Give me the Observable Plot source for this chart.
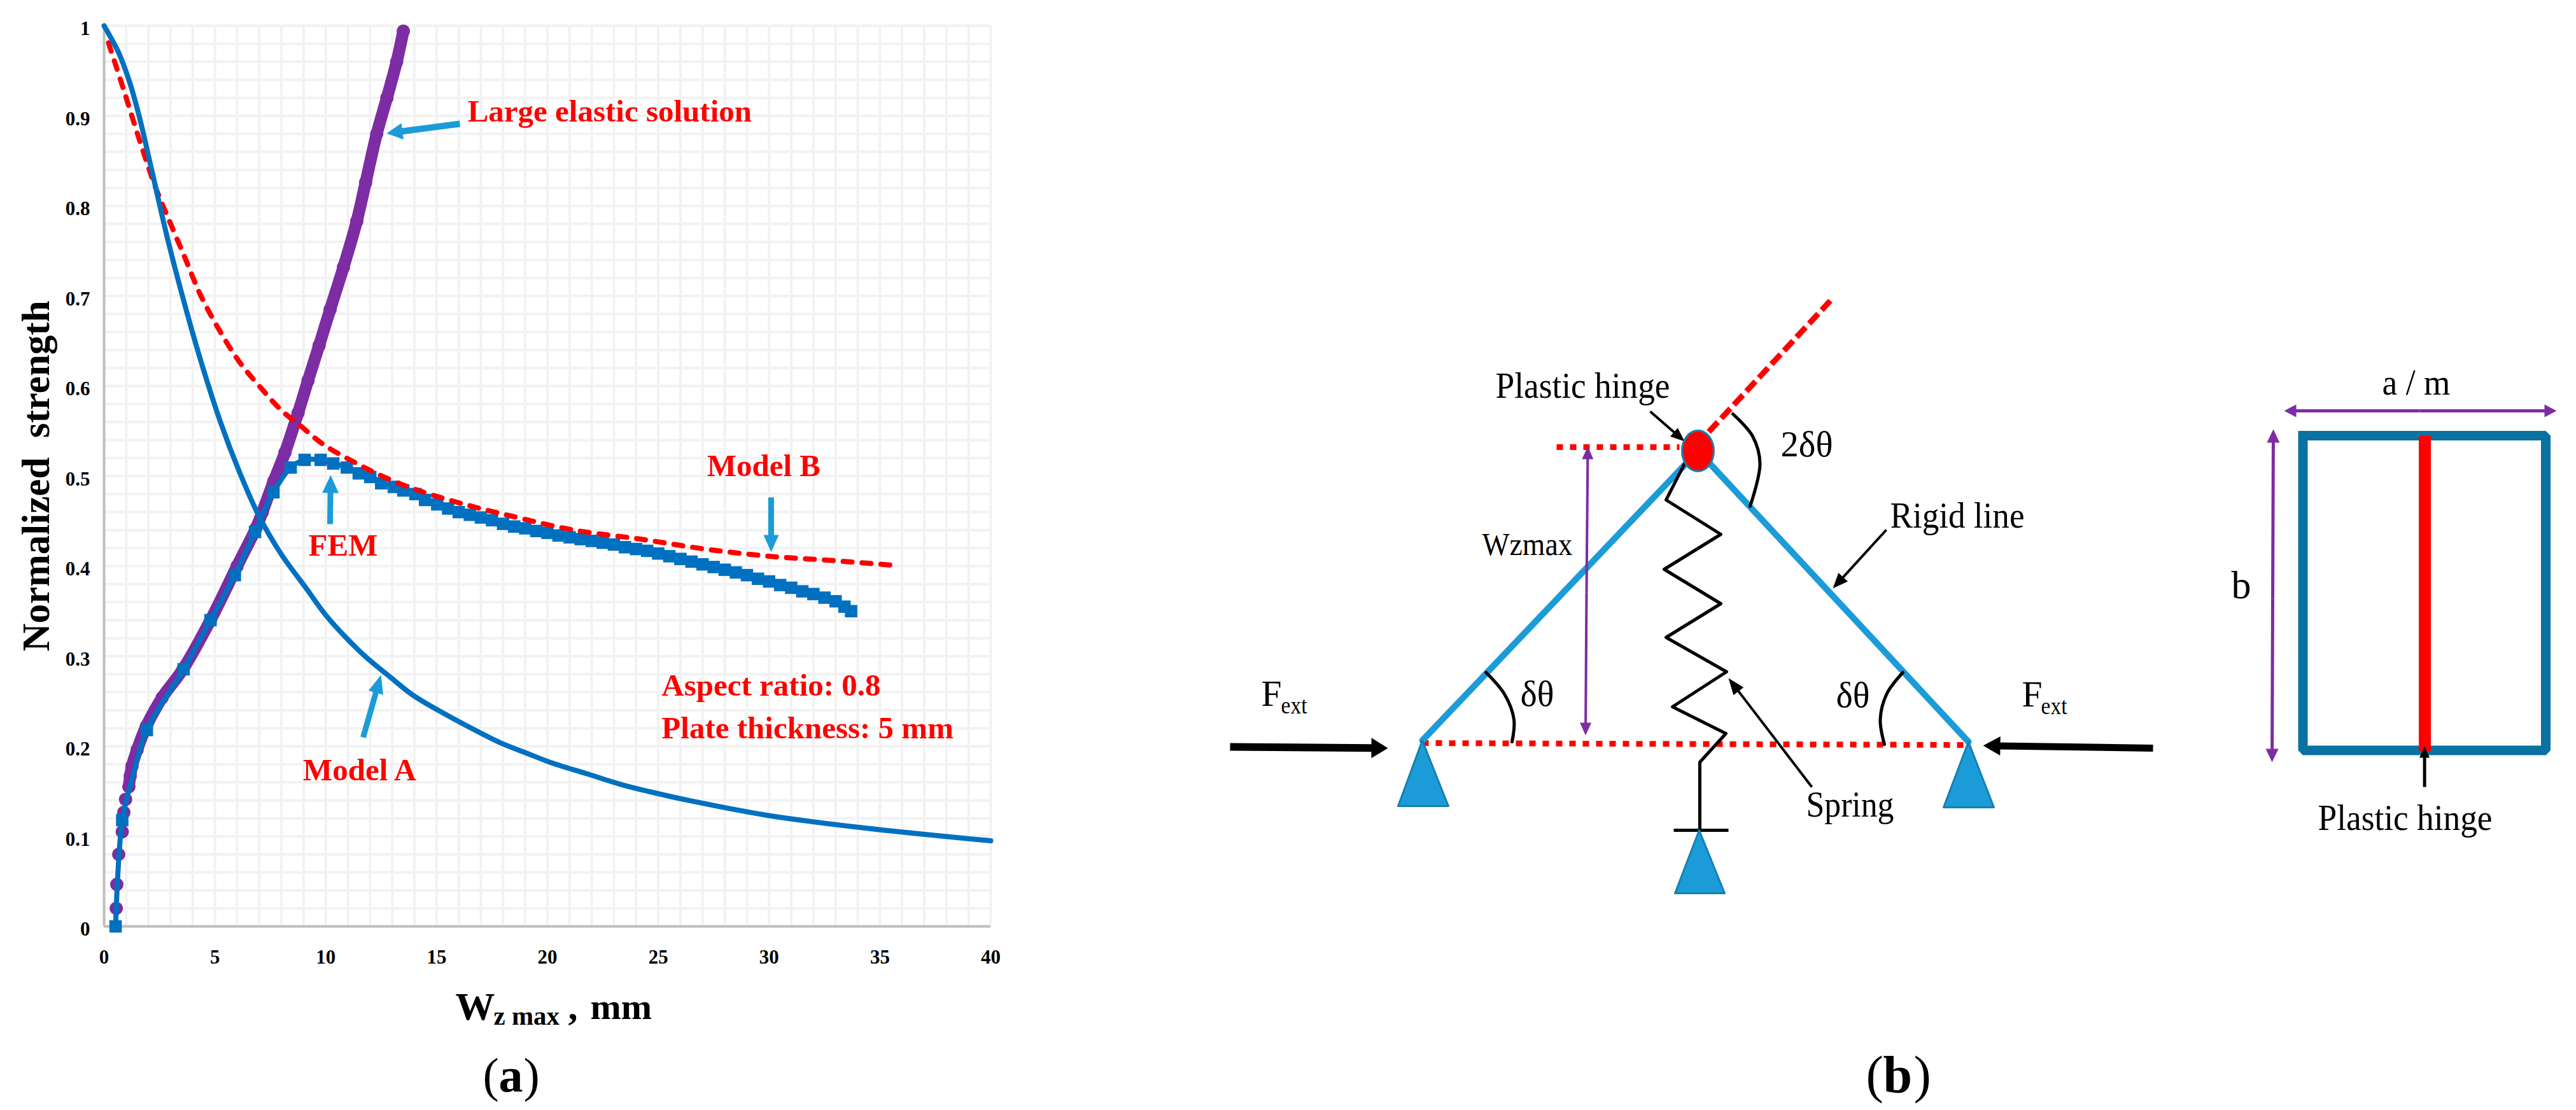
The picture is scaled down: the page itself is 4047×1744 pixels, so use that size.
<!DOCTYPE html>
<html><head><meta charset="utf-8">
<style>html,body{margin:0;padding:0;background:#fff}#wrap{position:relative;width:4047px;height:1744px;overflow:hidden}#wrap svg{position:absolute;left:0;top:0;background:transparent;max-width:none}</style>
<script src="https://cdn.jsdelivr.net/npm/d3@7"></script>
<script src="https://cdn.jsdelivr.net/npm/@observablehq/plot@0.6"></script>
</head><body><div id="wrap"></div>
<script>
// ---- panel (a) values ----
const modelAx=[0,0.3,0.66,1.17,1.6,2.11,2.9,3.7,4.4,5.25,6.1,7,8,9.1,9.99,10.98,11.86,12.85,13.94,15.14,16.37,17.9,19,20.1,21.76,23.4,25.06,26.35,30,34.4,40];
const modelAy=[1,0.987,0.97,0.936,0.898,0.844,0.76,0.685,0.625,0.56,0.505,0.455,0.413,0.376,0.346,0.319,0.298,0.278,0.2566,0.239,0.2226,0.2036,0.193,0.1824,0.1696,0.157,0.147,0.14,0.123,0.109,0.095];
const modelBx=[0.2,0.87,1.6,2.33,2.9,3.64,4.37,5.25,6.1,7,8,8.9,9.9,11.4,12.8,14.3,16.5,18.3,21.2,24.2,27.1,30,33,35.6];
const modelBy=[0.981,0.93,0.873,0.82,0.786,0.743,0.70,0.66,0.627,0.60,0.573,0.555,0.535,0.514,0.497,0.483,0.467,0.456,0.44,0.43,0.419,0.411,0.406,0.401];
const elasticX=[0.55,0.575,0.66,0.82,0.89,0.97,1.12,1.18,1.26,1.49,1.9,2.62,3.57,4.8,6,6.85,7.14,7.65,8.16,8.75,9.2,9.7,10.2,10.8,11.4,11.8,12.3,12.76,13.2,13.5];
const elasticY=[0.02,0.0466,0.08,0.105,0.1265,0.141,0.155,0.167,0.178,0.196,0.222,0.254,0.286,0.34,0.40,0.442,0.46,0.494,0.526,0.57,0.606,0.645,0.685,0.732,0.783,0.826,0.88,0.92,0.96,0.994];
const femX=[0.52,0.82,1.29,1.93,3.59,4.8,5.9,6.81,7.64,8.42,9.05,9.77,10.34,10.95,11.49,12.01,12.5,13.07,13.5,14.05,14.48,15.03,15.52,16,16.5,17,17.5,18,18.5,19,19.5,20,20.5,21,21.5,22,22.5,23,23.5,24,24.5,25,25.5,26,26.5,27,27.5,28,28.5,29,29.5,30,30.5,31,31.5,32,32.5,33,33.4,33.7];
const femY=[0,0.118,0.166,0.218,0.2855,0.34,0.39,0.438,0.482,0.5095,0.518,0.518,0.514,0.5095,0.503,0.499,0.492,0.488,0.484,0.48,0.4735,0.4686,0.464,0.46,0.457,0.454,0.451,0.447,0.444,0.442,0.439,0.437,0.434,0.432,0.43,0.428,0.426,0.424,0.421,0.419,0.417,0.414,0.411,0.408,0.405,0.402,0.399,0.396,0.393,0.39,0.386,0.383,0.379,0.376,0.372,0.369,0.365,0.361,0.355,0.35];
const femNoMarker=[1.29];
const xTicks=[0,5,10,15,20,25,30,35,40];
const yTicks=[0,0.1,0.2,0.3,0.4,0.5,0.6,0.7,0.8,0.9,1];
const xGrid=d3.range(0,41);
const yGrid=d3.range(0,51).map(i=>i/50);
const redLabels=[
 {t:"Large elastic solution",x:16.4,y:0.905},
 {t:"Model B",x:27.2,y:0.511},
 {t:"FEM",x:9.22,y:0.4226},
 {t:"Model A",x:8.97,y:0.173},
 {t:"Aspect ratio: 0.8",x:25.15,y:0.267},
 {t:"Plate thickness: 5 mm",x:25.15,y:0.22}];
const rows=(xs,ys)=>xs.map((x,i)=>({x,y:ys[i]}));
const serif="Liberation Serif";
const BLUE="#0070c0",PURPLE="#7d2ca3",RED="#ff0000",SKY="#1b9cd8",TEAL="#0a72a0";
const lineOpt={x:"x",y:"y",curve:"catmull-rom"};

const chart=Plot.plot({
 width:1900,height:1744,marginLeft:163,marginRight:344,marginTop:40,marginBottom:289,
 x:{domain:[0,40]},y:{domain:[0,1]},
 style:{background:"transparent",overflow:"visible"},
 marks:[
  Plot.ruleX(xGrid,{stroke:"#f2f2f2",strokeWidth:4}),
  Plot.ruleY(yGrid,{stroke:"#f2f2f2",strokeWidth:4}),
  Plot.ruleX([0],{stroke:"#bfbfbf",strokeWidth:4}),
  Plot.ruleY([0],{stroke:"#bfbfbf",strokeWidth:4}),
  Plot.axisX({ticks:xTicks,tickSize:0,tickPadding:36,fontSize:31,fontWeight:"bold",fontFamily:serif,fill:"#000",label:null,tickFormat:d=>String(d)}),
  Plot.axisY({ticks:yTicks,tickSize:0,tickPadding:22,dy:5,fontSize:31,fontWeight:"bold",fontFamily:serif,fill:"#000",label:null,tickFormat:d=>String(d)}),
  Plot.line(rows(elasticX,elasticY).filter(d=>d.y>=0.15),{...lineOpt,stroke:PURPLE,strokeWidth:19}),
  Plot.dot(rows(elasticX,elasticY),{x:"x",y:"y",r:10.5,fill:PURPLE,stroke:"none"}),
  Plot.line(rows(femX,femY),{...lineOpt,stroke:BLUE,strokeWidth:8}),
  Plot.dot(rows(femX,femY).filter(d=>!femNoMarker.includes(d.x)),{x:"x",y:"y",r:11,symbol:"square",fill:BLUE,stroke:"none"}),
  Plot.line(rows(modelBx,modelBy),{...lineOpt,stroke:RED,strokeWidth:8,strokeDasharray:"14,15.7",strokeLinecap:"round"}),
  Plot.line(rows(modelAx,modelAy),{...lineOpt,stroke:BLUE,strokeWidth:8}),
  Plot.text(redLabels,{x:"x",y:"y",text:"t",textAnchor:"start",fill:RED,fontWeight:"bold",fontFamily:serif,fontSize:49,stroke:"none"}),
  Plot.text(["Normalized  strength"],{frameAnchor:"left",textAnchor:"middle",dx:-106,rotate:-90,fill:"#000",fontWeight:"bold",fontFamily:serif,fontSize:61,lineAnchor:"middle"})
 ]
});

// ---- panel (b) schematic, and annotation arrows, on a page-sized coordinate plane ----
const triangles=[[[2234,1163],[2196,1266],[2275,1266]],[[3092,1165],[3053,1268],[3132,1268]],[[2669,1304],[2631,1403],[2709,1403]]];
const rigidLeft=[[2234,1163],[2650,726]];
const rigidRight=[[2684,726],[3092,1165]];
const extension=[[2684,678],[2875,472]];
const dotTop=[[2445,702],[2638,702]];
const dotBottom=[[2234,1167],[3090,1170]];
const spring=[[2646,728],[2617,785],[2703,839],[2614,894],[2703,948],[2617,1001],[2712,1055],[2627,1110],[2711,1152],[2670,1197],[2670,1304]];
const crossbar=[[2629,1304],[2715,1304]];
const arcs=[[[2334,1056],[2363,1090],[2378,1130],[2375,1165]],[[2989,1056],[2963.5,1090],[2953.5,1130],[2960,1169]],[[2722,650],[2753,685],[2764.5,728],[2749,795]]];
const plate=[[3617.5,684],[3999,684],[3999,1178.5],[3617.5,1178.5],[3617.5,684]];
const hingeBar=[[3809,684],[3809,1180]];
// x1,y1 tail; x2,y2 tip; tail width; head length; head half width; colour
const arrows=[
 [722,194,607,209,10,25,13,SKY],[518,823,519,746,9,28,13,SKY],[1211,781,1211,867,9,27,12,SKY],[570,1158,598,1060,9,29,12,SKY],
 [1932,1173,2180,1175,12,26,16,"#000"],[3382,1175,3115,1171,11,27,15,"#000"],
 [2592,646,2646,693,4,22,9,"#000"],[2963,832,2879,924,4,24,10,"#000"],[2846,1236,2715,1065,4,26,10,"#000"],[3808.6,1236,3808.6,1172,5,18,8,"#000"],
 [2492,930,2494,701,4,20,9,PURPLE],[2492,930,2490.5,1155,4,20,9,PURPLE],
 [3800,645,3588,645,5,19,10,PURPLE],[3800,645,4016,645,5,19,10,PURPLE],
 [3570,940,3571,674,5,21,10,PURPLE],[3570,940,3569,1197,5,21,10,PURPLE]];
const arrowPoly=([x1,y1,x2,y2,w,hl,hh])=>{
 const L=Math.hypot(x2-x1,y2-y1),ux=(x2-x1)/L,uy=(y2-y1)/L,nx=-uy,ny=ux;
 const bx=x2-ux*hl,by=y2-uy*hl;
 return [[x1+nx*w/2,y1+ny*w/2],[bx+nx*w/2,by+ny*w/2],[bx+nx*hh,by+ny*hh],[x2,y2],[bx-nx*hh,by-ny*hh],[bx-nx*w/2,by-ny*w/2],[x1-nx*w/2,y1-ny*w/2]];
};
const regular=[
 {t:"Plastic hinge",x:2349,yy:606,s:57},{t:"Wzmax",x:2328,yy:855,s:50},{t:"2δθ",x:2797,yy:698,s:57},{t:"δθ",x:2388,yy:1090,s:57},{t:"δθ",x:2884,yy:1092,s:57},
 {t:"F",x:1981,yy:1090,s:57},{t:"ext",x:2012,yy:1108,s:38},{t:"F",x:3176,yy:1091,s:57},{t:"ext",x:3206,yy:1109,s:38},
 {t:"Rigid line",x:2969,yy:810,s:57},{t:"Spring",x:2837,yy:1264,s:57},{t:"Plastic hinge",x:3641,yy:1285,s:57},{t:"a / m",x:3742,yy:601,s:57},{t:"b",x:3505,yy:920,s:62},
 {t:"(",x:758,yy:1690,s:76},{t:")",x:822,yy:1690,s:76},{t:"(",x:2931,yy:1689,s:82},{t:")",x:3006,yy:1689,s:82}];
const fitWidths={"Plastic hinge":274,"Wzmax":142,"2δθ":82,"δθ":53,"F":32,"ext":41,"Rigid line":211,"Spring":138,"a / m":107};
const boldText=[
 {t:"W",x:715,yy:1582,s:62},{t:"z max",x:775,yy:1596,s:41},{t:",",x:892,yy:1582,s:60},{t:"mm",x:927,yy:1582,s:58},
 {t:"a",x:783,yy:1690,s:76},{t:"b",x:2958,yy:1689,s:82}];
const P=(pts,o)=>Plot.line(pts,{x:d=>d[0],y:d=>d[1],...o});
const overlay=Plot.plot({
 width:4047,height:1744,margin:0,
 x:{domain:[0,4047],axis:null},y:{domain:[1744,0],axis:null},
 style:{background:"transparent",overflow:"visible"},
 marks:[
  P(dotBottom,{stroke:RED,strokeWidth:9,strokeDasharray:"10,11",strokeLinecap:"butt"}),
  P(rigidLeft,{stroke:SKY,strokeWidth:10}),P(rigidRight,{stroke:SKY,strokeWidth:10}),
  P(extension,{stroke:RED,strokeWidth:9,strokeDasharray:"21,8",strokeLinecap:"butt"}),
  P(dotTop,{stroke:RED,strokeWidth:9,strokeDasharray:"10,11",strokeLinecap:"butt"}),
  P(spring,{stroke:"#000",strokeWidth:5,curve:"linear"}),P(crossbar,{stroke:"#000",strokeWidth:5,strokeLinecap:"butt"}),
  ...triangles.map(t=>P(t.concat([t[0]]),{fill:SKY,stroke:"#1680b0",strokeWidth:3})),
  ...arcs.map(a=>P(a,{stroke:"#000",strokeWidth:5,curve:"catmull-rom"})),
  P(plate,{stroke:TEAL,strokeWidth:15,strokeLinecap:"square",strokeLinejoin:"miter"}),
  P(hingeBar,{stroke:RED,strokeWidth:19,strokeLinecap:"butt"}),
  ...arrows.map(a=>P(arrowPoly(a),{fill:a[7],stroke:"none"})),
  Plot.dot([[2667,708]],{x:d=>d[0],y:d=>d[1],r:26,fill:RED,stroke:"#1680b0",strokeWidth:3,
    render:(I,s,v,d,c,next)=>{const g=next(I,s,v,d,c);g.querySelectorAll("circle").forEach(e=>{const cx=+e.getAttribute("cx"),cy=+e.getAttribute("cy");const p=document.createElementNS("http://www.w3.org/2000/svg","ellipse");p.setAttribute("cx",isNaN(cx)?2667:cx);p.setAttribute("cy",isNaN(cy)?708:cy);p.setAttribute("rx",25);p.setAttribute("ry",32);e.replaceWith(p);});return g;}}),
  Plot.text(regular,{x:"x",y:"yy",text:"t",textAnchor:"start",fontSize:d=>d.s,fontFamily:serif,fill:"#000"}),
  Plot.text(boldText,{x:"x",y:"yy",text:"t",textAnchor:"start",fontSize:d=>d.s,fontFamily:serif,fontWeight:"bold",fill:"#000"})
 ]
});
overlay.querySelectorAll("text").forEach(e=>{const w=fitWidths[e.textContent];if(w){e.setAttribute("textLength",w);e.setAttribute("lengthAdjust","spacingAndGlyphs");}});
const w=document.getElementById("wrap");
w.appendChild(chart);w.appendChild(overlay);
</script></body></html>
